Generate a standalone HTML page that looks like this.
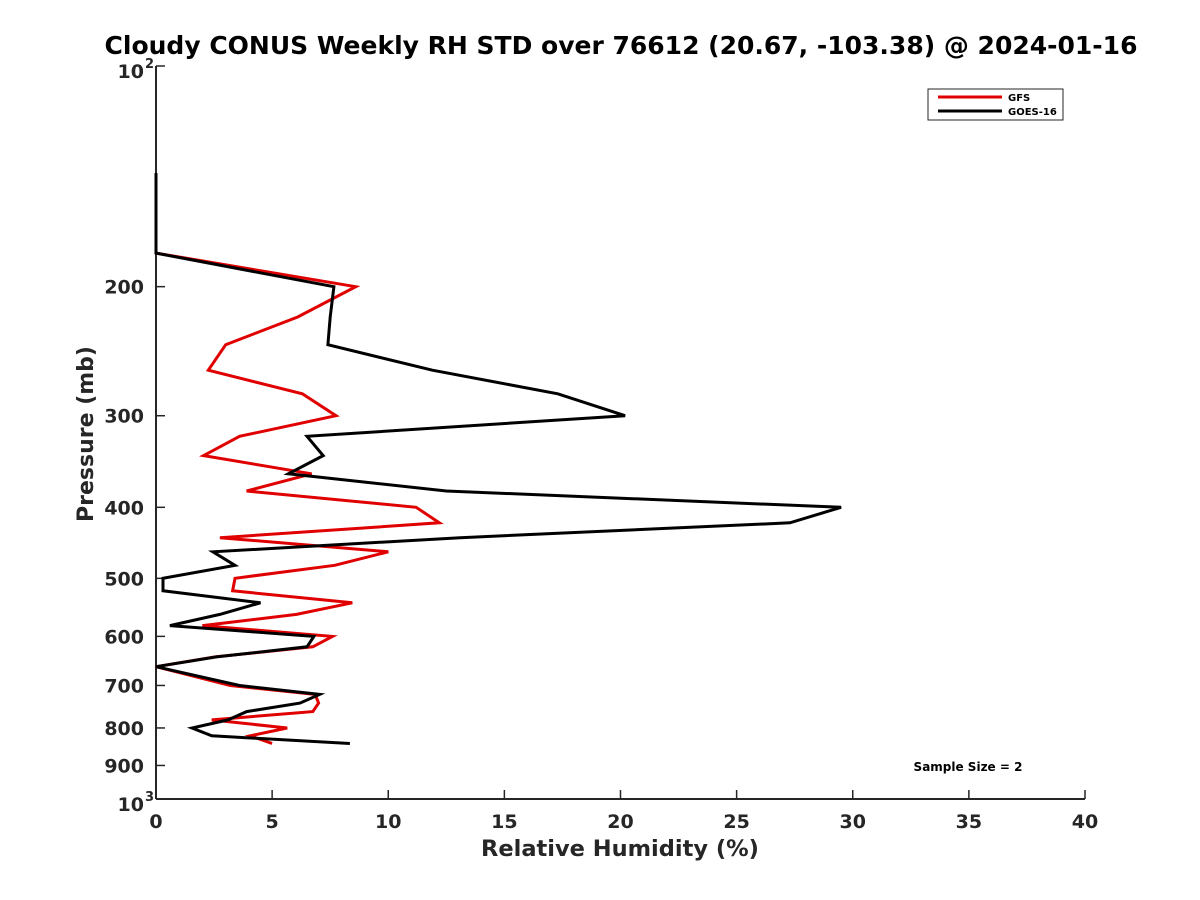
<!DOCTYPE html>
<html><head><meta charset="utf-8"><style>
body{margin:0;background:#fff}
svg{display:block;font-family:"DejaVu Sans","Liberation Sans",sans-serif}
</style></head><body>
<svg id="chart" width="1200" height="900" viewBox="0 0 1200 900" xmlns="http://www.w3.org/2000/svg">
<rect width="1200" height="900" fill="#fff"/>
<text x="621" y="54" text-anchor="middle" font-size="25" font-weight="bold">Cloudy CONUS Weekly RH STD over 76612 (20.67, -103.38) @ 2024-01-16</text>
<g id="axes"></g>
<g id="series"></g>
<text x="620" y="856" text-anchor="middle" font-size="22.5" font-weight="bold" fill="#262626">Relative Humidity (%)</text>
<text transform="translate(93,434) rotate(-90)" text-anchor="middle" font-size="22" font-weight="bold" fill="#262626">Pressure (mb)</text>
<g>
<rect x="928" y="89" width="135" height="31" fill="#fff" stroke="#262626" stroke-width="1"/>
<line x1="938" y1="97" x2="1002" y2="97" stroke="#e00000" stroke-width="3"/>
<text x="1008" y="101" font-size="10" font-weight="bold">GFS</text>
<line x1="938" y1="111" x2="1002" y2="111" stroke="#000" stroke-width="3"/>
<text x="1008" y="115" font-size="10" font-weight="bold">GOES-16</text>
</g>
<text x="968" y="771" text-anchor="middle" font-size="12" font-weight="bold">Sample Size = 2</text>
</svg>
<script>
const levels = [140,180,200,220,240,260,280,300,320,340,360,380,400,420,440,460,480,500,520,540,560,580,600,620,640,660,700,720,740,760,780,800,820,840];
const gfsValues = [0,0,8.6,6.1,3.0,2.25,6.3,7.75,3.6,2.05,6.7,3.9,11.2,12.2,2.75,10.0,7.7,3.4,3.3,8.45,6.05,2.0,7.6,6.75,2.55,0,3.2,6.85,7.0,6.75,2.4,5.65,4.05,5.0];
const goesValues = [0,0,7.66,7.5,7.4,11.9,17.3,20.2,6.5,7.2,5.7,12.5,29.5,27.3,13.1,2.45,3.4,0.3,0.3,4.5,2.75,0.6,6.8,6.5,2.6,0,3.6,7.05,6.2,3.9,3.1,1.55,2.4,8.35];
const xTicks = [0,5,10,15,20,25,30,35,40];
const yTicks = [200,300,400,500,600,700,800,900];

const L=156,R=1085,T=66,B=799;
const xs=v=>L+(v-0)/(40-0)*(R-L);
const ys=p=>T+(Math.log10(p)-2)*(B-T);
const NS="http://www.w3.org/2000/svg";
function mk(tag,attrs,parent){const e=document.createElementNS(NS,tag);for(const k in attrs)e.setAttribute(k,attrs[k]);parent.appendChild(e);return e;}
const ax=document.getElementById('axes');
let e=mk('line',{x1:L,y1:T,x2:L,y2:B,stroke:'#262626','stroke-width':2},ax);


e=mk('line',{x1:L,y1:B,x2:R,y2:B,stroke:'#262626','stroke-width':2},ax);


xTicks.forEach(t=>{
  const x=xs(t);
  mk('line',{x1:x,y1:B,x2:x,y2:B-9,stroke:'#262626','stroke-width':1.5},ax);
  const tx=mk('text',{x:x,y:B+29,'text-anchor':'middle','font-size':19,'font-weight':'bold',fill:'#262626'},ax);
  tx.textContent=t;
  
  
});
[[100,'2'],[1000,'3']].forEach(([p,s])=>{
  const y=ys(p);
  mk('line',{x1:L,y1:y,x2:L+9,y2:y,stroke:'#262626','stroke-width':1.5},ax);
  const tx=mk('text',{x:L-12,y:y+12,'text-anchor':'end','font-size':19,'font-weight':'bold',fill:'#262626'},ax);
  tx.textContent='10';
  
  
  const sp=mk('text',{x:L-11,y:y+2,'text-anchor':'start','font-size':13,'font-weight':'bold',fill:'#262626'},ax);
  sp.textContent=s;
  
  
});
yTicks.forEach(t=>{
  const y=ys(t);
  mk('line',{x1:L,y1:y,x2:L+9,y2:y,stroke:'#262626','stroke-width':1.5},ax);
  const tx=mk('text',{x:L-12,y:y+7,'text-anchor':'end','font-size':19,'font-weight':'bold',fill:'#262626'},ax);
  tx.textContent=t;
  
  
});
const sg=document.getElementById('series');
function line(vals,color,name){
  const d=vals.map((v,i)=>(i?'L':'M')+xs(v).toFixed(1)+' '+ys(levels[i]).toFixed(1)).join(' ');
  const p=mk('path',{d:d,fill:'none',stroke:color,'stroke-width':3,'stroke-linejoin':'miter'},sg);
  
  
}
line(gfsValues,'#e00000','gfs-line');
line(goesValues,'#000000','goes16-line');
</script>
</body></html>
